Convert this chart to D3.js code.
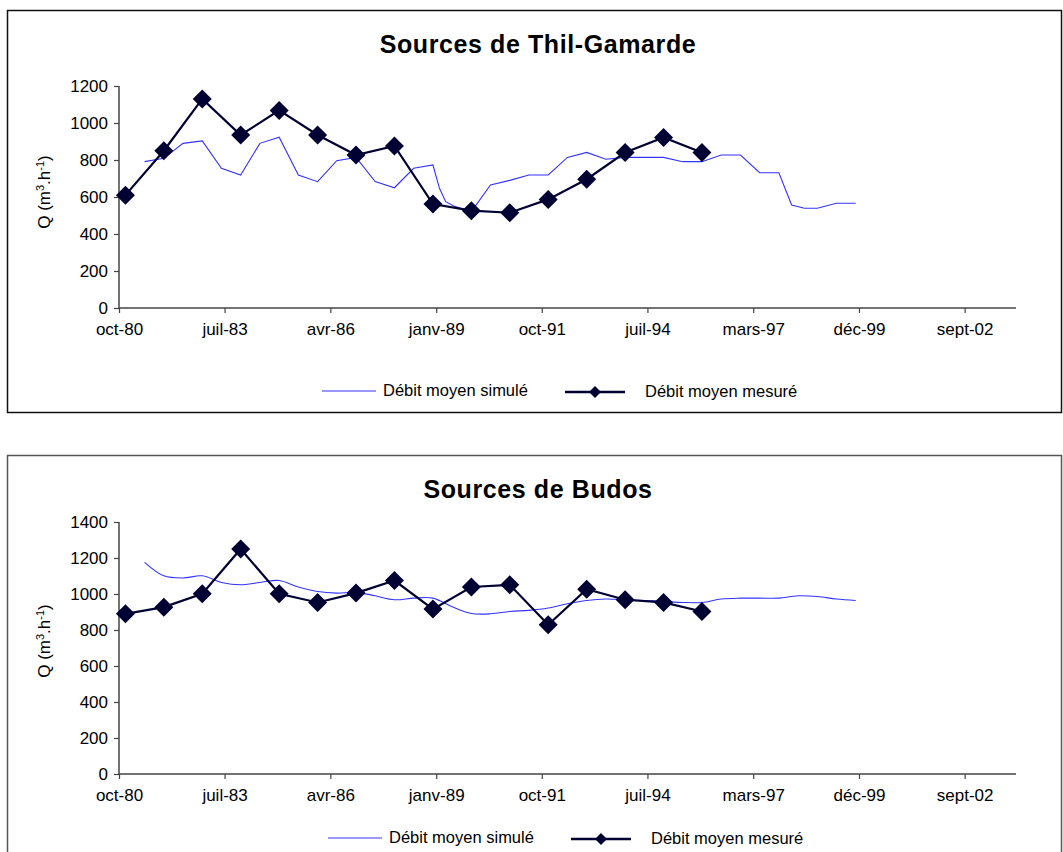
<!DOCTYPE html>
<html>
<head>
<meta charset="utf-8">
<script src="https://cdn.jsdelivr.net/npm/d3@7"></script>
<style>
  body { margin: 0; background: #fff; }
  svg text { font-family: Arial, "Liberation Sans", sans-serif; fill: #000; }
</style>
</head>
<body>
<svg id="chart" width="1063" height="852"></svg>
<script>
// x axis tick labels (one every 33 months from oct-80)
const xTickLabels = ["oct-80", "juil-83", "avr-86", "janv-89", "oct-91", "juil-94", "mars-97", "déc-99", "sept-02"];

// measured annual values (same dates for both sources)
const mesureDates = ["1980-12", "1981-12", "1982-12", "1983-12", "1984-12", "1985-12", "1986-12", "1987-12",
  "1988-12", "1989-12", "1990-12", "1991-12", "1992-12", "1993-12", "1994-12", "1995-12"];
const thilMesure = [610, 850, 1130, 935, 1068, 935, 827, 876, 562, 526, 515, 587, 696, 840, 922, 841];
const budosMesure = [890, 927, 1001, 1250, 1001, 953, 1005, 1075, 916, 1039, 1051, 829, 1027, 968, 953, 903];

// simulated values, Thil-Gamarde
const thilSimDates = ["1981-06", "1981-12", "1982-06", "1982-12", "1983-06", "1983-12", "1984-06", "1984-12",
  "1985-06", "1985-12", "1986-06", "1986-12", "1987-06", "1987-12", "1988-06", "1988-12", "1989-02", "1989-04",
  "1989-07", "1989-12", "1990-06", "1990-12", "1991-06", "1991-12", "1992-06", "1992-12", "1993-06", "1993-12",
  "1994-06", "1994-12", "1995-06", "1995-12", "1996-06", "1996-12", "1997-06", "1997-12", "1998-04", "1998-08",
  "1998-12", "1999-06", "1999-12"];
const thilSim = [791, 809, 890, 903, 755, 719, 890, 923, 719, 683, 796, 814, 683, 650, 755, 773, 647, 575,
  548, 521, 665, 690, 719, 719, 814, 841, 804, 814, 814, 814, 791, 791, 827, 827, 731, 731, 557, 539,
  539, 566, 566];

// simulated values, Budos (half-yearly)
const budosSimDates = ["1981-06", "1981-12", "1982-06", "1982-12", "1983-06", "1983-12", "1984-06", "1984-12",
  "1985-06", "1985-12", "1986-06", "1986-12", "1987-06", "1987-12", "1988-06", "1988-12", "1989-06", "1989-12",
  "1990-06", "1990-12", "1991-06", "1991-12", "1992-06", "1992-12", "1993-06", "1993-12", "1994-06", "1994-12",
  "1995-06", "1995-12", "1996-06", "1996-12", "1997-06", "1997-12", "1998-06", "1998-12", "1999-06", "1999-12"];
const budosSim = [1176, 1101, 1089, 1101, 1064, 1051, 1064, 1075, 1039, 1014, 1005, 1009, 990, 968, 977, 977,
  929, 892, 890, 903, 909, 922, 946, 964, 972, 968, 964, 959, 953, 953, 972, 977, 977, 977, 990, 986, 972, 964];

const thilTicks = [0, 200, 400, 600, 800, 1000, 1200];
const budosTicks = [0, 200, 400, 600, 800, 1000, 1200, 1400];

const parse = d3.timeParse("%Y-%m");
const start = new Date(1980, 9, 1);
const SIM_COLOR = "#3333ff", MES_COLOR = "#000033";

const svg = d3.select("#chart");

const x = d3.scaleTime()
  .domain([start, d3.timeMonth.offset(start, 280)])
  .range([119, 1016]);
const xTicks = xTickLabels.map((d, i) => d3.timeMonth.offset(start, 33 * i));

const panels = [
  { title: "Sources de Thil-Gamarde", frame: [7.5, 10.5, 1054, 402], frameColor: "#111",
    titleY: 53, yRange: [308, 86], yMax: 1200, yTicks: thilTicks, curve: d3.curveLinear,
    sim: thilSimDates.map((d, i) => ({ date: parse(d), v: thilSim[i] })),
    mes: mesureDates.map((d, i) => ({ date: parse(d), v: thilMesure[i] })),
    yTitle: 192, legendY: 391 },
  { title: "Sources de Budos", frame: [7.5, 455.5, 1054, 420], frameColor: "#555",
    titleY: 498, yRange: [774, 522], yMax: 1400, yTicks: budosTicks, curve: d3.curveCatmullRom,
    sim: budosSimDates.map((d, i) => ({ date: parse(d), v: budosSim[i] })),
    mes: mesureDates.map((d, i) => ({ date: parse(d), v: budosMesure[i] })),
    yTitle: 641, legendY: 838, legendDx: 6 }
];

const diamond = s => `M0,${-s}L${s},0L0,${s}L${-s},0Z`;

panels.forEach(p => {
  const g = svg.append("g");
  const [fx, fy, fw, fh] = p.frame;
  g.append("rect").attr("x", fx).attr("y", fy).attr("width", fw).attr("height", fh)
    .attr("fill", "none").attr("stroke", p.frameColor).attr("stroke-width", 1.5);

  g.append("text").attr("x", 538).attr("y", p.titleY).attr("text-anchor", "middle")
    .attr("font-size", 25).attr("font-weight", "bold").attr("letter-spacing", 0.6).text(p.title);

  const y = d3.scaleLinear().domain([0, p.yMax]).range(p.yRange);

  const yAxis = g.append("g").attr("transform", "translate(119,0)")
    .call(d3.axisLeft(y).tickValues(p.yTicks).tickSize(5).tickPadding(6).tickFormat(d3.format("d")));
  const xAxis = g.append("g").attr("transform", `translate(0,${p.yRange[0]})`)
    .call(d3.axisBottom(x).tickValues(xTicks).tickSize(5).tickPadding(10)
      .tickFormat((d, i) => xTickLabels[i]));
  [xAxis, yAxis].forEach(a => {
    a.select(".domain").attr("stroke", "#444").attr("stroke-width", 1.5);
    a.selectAll(".tick line").attr("stroke", "#444").attr("stroke-width", 1.2);
    a.selectAll("text").attr("font-size", 17).attr("fill", "#000").attr("font-family", "Arial, 'Liberation Sans', sans-serif");
  });
  xAxis.select(".domain").attr("d", `M119,0H1016`);
  yAxis.select(".domain").attr("d", `M0,${p.yRange[0]}V${p.yRange[1]}`);

  const yt = g.append("text").attr("transform", `translate(50,${p.yTitle}) rotate(-90)`)
    .attr("text-anchor", "middle").attr("font-size", 17);
  yt.append("tspan").text("Q (m");
  yt.append("tspan").attr("font-size", 11).attr("dy", -6).text("3");
  yt.append("tspan").attr("dy", 6).text(".h");
  yt.append("tspan").attr("font-size", 11).attr("dy", -6).text("-1");
  yt.append("tspan").attr("dy", 6).text(")");

  const line = d3.line().x(d => x(d.date)).y(d => y(d.v));
  g.append("path").datum(p.sim).attr("fill", "none").attr("stroke", SIM_COLOR).attr("stroke-width", 1.1)
    .attr("d", line.curve(p.curve));
  g.append("path").datum(p.mes).attr("fill", "none").attr("stroke", MES_COLOR).attr("stroke-width", 2.2)
    .attr("d", d3.line().x(d => x(d.date)).y(d => y(d.v)));
  g.selectAll(".mk").data(p.mes).enter().append("path")
    .attr("transform", d => `translate(${x(d.date)},${y(d.v)})`)
    .attr("d", diamond(9.5)).attr("fill", MES_COLOR);

  // legend
  const dx = p.legendDx || 0;
  const ly = p.legendY;
  g.append("line").attr("x1", 322 + dx).attr("x2", 376 + dx).attr("y1", ly).attr("y2", ly)
    .attr("stroke", SIM_COLOR).attr("stroke-width", 1.2);
  g.append("text").attr("x", 383 + dx).attr("y", ly + 5).attr("font-size", 16.5).text("Débit moyen simulé");
  g.append("line").attr("x1", 565 + dx).attr("x2", 625 + dx).attr("y1", ly + 1).attr("y2", ly + 1)
    .attr("stroke", MES_COLOR).attr("stroke-width", 2.5);
  g.append("path").attr("transform", `translate(${595 + dx},${ly + 1})`).attr("d", diamond(6)).attr("fill", MES_COLOR);
  g.append("text").attr("x", 645 + dx).attr("y", ly + 6).attr("font-size", 16.5).text("Débit moyen mesuré");
});
</script>
</body>
</html>
